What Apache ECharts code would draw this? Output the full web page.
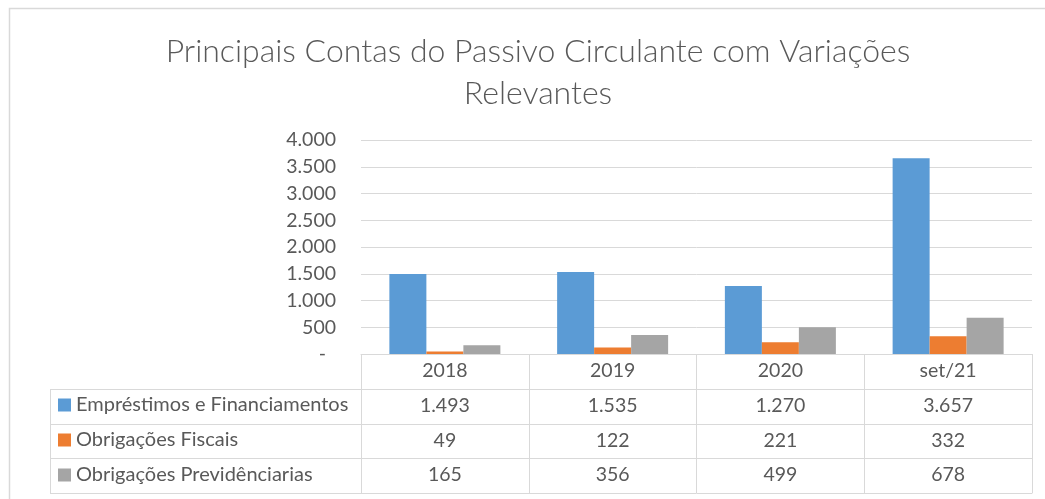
<!DOCTYPE html>
<html>
<head>
<meta charset="utf-8">
<script src="https://cdn.jsdelivr.net/npm/echarts@6/dist/echarts.min.js"></script>
<style>
  html, body { margin: 0; padding: 0; background: #fff; }
  #main { width: 1045px; height: 499px; }
</style>
</head>
<body>
<div id="main"></div>
<script>
const categories = ['2018', '2019', '2020', 'set/21']
const seriesNames = ['Empréstimos e Financiamentos', 'Obrigações Fiscais', 'Obrigações Previdênciarias']
const emprestimos = [1493, 1535, 1270, 3657]
const fiscais = [49, 122, 221, 332]
const previdenciarias = [165, 356, 499, 678]
const colors = ['#5b9bd5', '#ed7d31', '#a5a5a5']

const fontFamily = 'Lato, "Open Sans", sans-serif'
const textColor = '#595959'
const lineColor = '#d9d9d9'

// layout of the plot and the data table under it
const plotLeft = 361
const plotRight = 1032
const axisY = 354
const rowH = 34.75
const tableLeft = 50

function fmt(v) {
  return String(v).replace(/\B(?=(\d{3})+(?!\d))/g, '.')
}

const rows = [emprestimos, fiscais, previdenciarias]

const tableAxes = rows.map((vals, i) => ({
  type: 'category',
  gridIndex: 0,
  position: 'bottom',
  offset: Math.round(rowH * (i + 1)),
  data: vals.map(fmt),
  axisLine: { show: true, lineStyle: { color: lineColor, width: 1 } },
  axisTick: { show: true, interval: 0, length: Math.round(rowH), lineStyle: { color: lineColor } },
  axisLabel: { interval: 0, margin: 7, color: textColor, fontSize: 19.5, lineHeight: 20, fontFamily: fontFamily },
}))

// closing bottom line of the table
tableAxes.push({
  type: 'category',
  gridIndex: 0,
  position: 'bottom',
  offset: Math.round(rowH * 4),
  data: categories.map(() => ''),
  axisLine: { show: true, lineStyle: { color: lineColor, width: 1 } },
  axisTick: { show: false },
  axisLabel: { show: false },
})

const leftLines = []
for (let i = 1; i <= 4; i++) {
  const y = axisY + Math.round(rowH * i) + 0.5
  leftLines.push({
    type: 'line',
    shape: { x1: tableLeft, y1: y, x2: plotLeft, y2: y },
    style: { stroke: lineColor, lineWidth: 1 },
  })
}
leftLines.push({
  type: 'line',
  shape: { x1: tableLeft + 0.5, y1: axisY + Math.round(rowH), x2: tableLeft + 0.5, y2: axisY + Math.round(rowH * 4) },
  style: { stroke: lineColor, lineWidth: 1 },
})

const chart = echarts.init(document.getElementById('main'))
const option = {
  backgroundColor: '#fff',
  animation: false,
  title: {
    text: 'Principais Contas do Passivo Circulante com Variações\nRelevantes',
    left: 533,
    top: 26,
    textAlign: 'center',
    textStyle: {
      color: textColor,
      fontSize: 32,
      fontWeight: 300,
      lineHeight: 42,
      fontFamily: fontFamily,
    },
  },
  legend: {
    orient: 'vertical',
    left: 53,
    top: 390,
    itemWidth: 13,
    itemHeight: 13,
    itemGap: 15,
    icon: 'rect',
    selectedMode: false,
    textStyle: { color: textColor, fontSize: 20, lineHeight: 20, fontFamily: fontFamily },
    data: seriesNames,
  },
  grid: {
    left: plotLeft,
    right: 1045 - plotRight,
    top: 140,
    bottom: 499 - axisY,
    containLabel: false,
  },
  xAxis: [{
    type: 'category',
    position: 'bottom',
    data: categories,
    axisLine: { show: true, lineStyle: { color: lineColor, width: 1 } },
    axisTick: { show: true, interval: 0, length: Math.round(rowH), lineStyle: { color: lineColor } },
    axisLabel: { interval: 0, margin: 7, color: textColor, fontSize: 19.5, lineHeight: 20, fontFamily: fontFamily },
  }].concat(tableAxes),
  yAxis: {
    type: 'value',
    min: 0,
    max: 4000,
    interval: 500,
    axisLine: { show: false },
    axisTick: { show: false },
    splitLine: { lineStyle: { color: lineColor, width: 1 } },
    axisLabel: {
      margin: 25,
      color: textColor,
      fontSize: 19.5,
      fontFamily: fontFamily,
      formatter: v => v === 0 ? '-  ' : fmt(v),
    },
  },
  series: [emprestimos, fiscais, previdenciarias].map((d, i) => ({
    name: seriesNames[i],
    type: 'bar',
    data: d,
    barWidth: 37,
    barGap: '0%',
    itemStyle: { color: colors[i] },
  })),
  graphic: [{
    type: 'rect',
    shape: { x: 9.5, y: 8.5, width: 1200, height: 700 },
    style: { fill: 'none', stroke: lineColor, lineWidth: 1.5 },
  }].concat(leftLines),
}
chart.setOption(option)
</script>
</body>
</html>
